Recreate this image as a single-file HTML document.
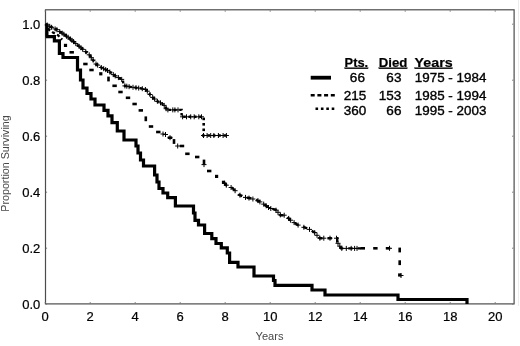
<!DOCTYPE html>
<html><head><meta charset="utf-8"><title>Survival</title>
<style>
html,body{margin:0;padding:0;background:#fff;}
body{width:520px;height:346px;overflow:hidden;font-family:"Liberation Sans",sans-serif;}
svg{display:block;}
text{font-family:"Liberation Sans",sans-serif;}
.tk{font-size:13px;fill:#000;stroke:#000;stroke-width:0.22px;}
.lg{font-size:12.3px;fill:#000;stroke:#000;stroke-width:0.35px;}
.lb{font-size:12.5px;font-weight:bold;fill:#000;stroke:#000;stroke-width:0.2px;}
</style></head><body>
<svg width="520" height="346" viewBox="0 0 520 346">
<rect width="520" height="346" fill="#fff"/>

<rect x="45.5" y="9.8" width="468.6" height="294.1" fill="none" stroke="#4c4c4c" stroke-width="1.2"/>
<line x1="518.5" y1="0" x2="518.5" y2="306" stroke="#ececec" stroke-width="1"/>
<path d="M45.2,303.4v-1.3M45.2,10.4v1.3M90.2,303.4v-1.3M90.2,10.4v1.3M135.2,303.4v-1.3M135.2,10.4v1.3M180.2,303.4v-1.3M180.2,10.4v1.3M225.2,303.4v-1.3M225.2,10.4v1.3M270.2,303.4v-1.3M270.2,10.4v1.3M315.2,303.4v-1.3M315.2,10.4v1.3M360.2,303.4v-1.3M360.2,10.4v1.3M405.2,303.4v-1.3M405.2,10.4v1.3M450.2,303.4v-1.3M450.2,10.4v1.3M495.2,303.4v-1.3M495.2,10.4v1.3M45.8,24.2h1.3M513.4,24.2h-1.3M45.8,80.2h1.3M513.4,80.2h-1.3M45.8,136.2h1.3M513.4,136.2h-1.3M45.8,192.2h1.3M513.4,192.2h-1.3M45.8,248.2h1.3M513.4,248.2h-1.3M45.8,304.2h1.3M513.4,304.2h-1.3" stroke="#777" stroke-width="1" fill="none"/>
<text class="tk" x="40.3" y="28.7" text-anchor="end">1.0</text>
<text class="tk" x="40.3" y="84.7" text-anchor="end">0.8</text>
<text class="tk" x="40.3" y="140.7" text-anchor="end">0.6</text>
<text class="tk" x="40.3" y="196.7" text-anchor="end">0.4</text>
<text class="tk" x="40.3" y="252.7" text-anchor="end">0.2</text>
<text class="tk" x="40.3" y="308.7" text-anchor="end">0.0</text>
<text class="tk" x="45.2" y="321" text-anchor="middle">0</text>
<text class="tk" x="90.2" y="321" text-anchor="middle">2</text>
<text class="tk" x="135.2" y="321" text-anchor="middle">4</text>
<text class="tk" x="180.2" y="321" text-anchor="middle">6</text>
<text class="tk" x="225.2" y="321" text-anchor="middle">8</text>
<text class="tk" x="270.2" y="321" text-anchor="middle">10</text>
<text class="tk" x="315.2" y="321" text-anchor="middle">12</text>
<text class="tk" x="360.2" y="321" text-anchor="middle">14</text>
<text class="tk" x="405.2" y="321" text-anchor="middle">16</text>
<text class="tk" x="450.2" y="321" text-anchor="middle">18</text>
<text class="tk" x="495.2" y="321" text-anchor="middle">20</text>
<text x="269.5" y="340.2" text-anchor="middle" font-size="11.5px" fill="#484848" textLength="28" lengthAdjust="spacingAndGlyphs">Years</text>
<text transform="translate(8.7,163.5) rotate(-90)" text-anchor="middle" font-size="10px" fill="#484848" textLength="96.5" lengthAdjust="spacingAndGlyphs">Proportion Surviving</text>
<polyline points="45.5,24.0 49.8,26.4 56.7,29.6 64.2,34.5 70.0,38.7 78.7,46.0 88.6,54.0 96.0,64.0 100.8,67.3 108.5,71.0 116.0,76.5 120.5,78.6 122.9,80.2 123.5,85.6 129.7,86.8 141.2,88.4 145.9,89.6 148.5,92.6 151.5,96.5 157.3,101.2 162.0,103.5 165.4,106.4 166.5,109.9 181.6,109.9 181.6,116.8 204.5,116.8" fill="none" stroke="#000" stroke-width="2.4" stroke-dasharray="2.6 2.8"/>
<polyline points="202.0,135.5 227.6,135.5" fill="none" stroke="#000" stroke-width="2.4" stroke-dasharray="2.6 2.8"/>
<rect x="202.4" y="117.6" width="2.6" height="2.6" fill="#000"/>
<rect x="202.4" y="123.0" width="2.6" height="2.6" fill="#000"/>
<rect x="202.4" y="128.5" width="2.6" height="2.6" fill="#000"/>
<path d="M44.7,25.0h5.0M47.2,22.5v5.0M47.2,26.3h5.0M49.7,23.8v5.0M49.1,27.3h5.0M51.6,24.8v5.0M52.6,28.9h5.0M55.1,26.4v5.0M54.4,29.7h5.0M56.9,27.2v5.0M57.2,31.6h5.0M59.7,29.1v5.0M59.7,33.2h5.0M62.2,30.7v5.0M61.3,34.2h5.0M63.8,31.7v5.0M64.0,36.2h5.0M66.5,33.7v5.0M65.5,37.2h5.0M68.0,34.7v5.0M68.0,39.1h5.0M70.5,36.6v5.0M69.4,40.3h5.0M71.9,37.8v5.0M71.0,41.6h5.0M73.5,39.1v5.0M73.3,43.6h5.0M75.8,41.1v5.0M76.7,46.4h5.0M79.2,43.9v5.0M78.4,47.7h5.0M80.9,45.2v5.0M80.2,49.3h5.0M82.7,46.8v5.0M83.2,51.6h5.0M85.7,49.1v5.0M86.7,54.8h5.0M89.2,52.3v5.0M88.8,57.7h5.0M91.3,55.2v5.0M90.6,60.1h5.0M93.1,57.6v5.0M93.5,64.0h5.0M96.0,61.5v5.0M95.1,65.1h5.0M97.6,62.6v5.0M98.8,67.5h5.0M101.3,65.0v5.0M101.2,68.7h5.0M103.7,66.2v5.0M103.2,69.6h5.0M105.7,67.1v5.0M105.0,70.5h5.0M107.5,68.0v5.0M107.3,72.0h5.0M109.8,69.5v5.0M110.8,74.6h5.0M113.3,72.1v5.0M112.7,75.9h5.0M115.2,73.4v5.0M115.9,77.6h5.0M118.4,75.1v5.0M119.2,79.4h5.0M121.7,76.9v5.0M122.4,85.9h5.0M124.9,83.4v5.0M124.3,86.2h5.0M126.8,83.7v5.0M126.6,86.7h5.0M129.1,84.2v5.0M130.5,87.3h5.0M133.0,84.8v5.0M133.5,87.7h5.0M136.0,85.2v5.0M136.2,88.1h5.0M138.7,85.6v5.0M139.8,88.7h5.0M142.3,86.2v5.0M142.9,89.5h5.0M145.4,87.0v5.0M144.8,91.2h5.0M147.3,88.7v5.0M147.5,94.5h5.0M150.0,92.0v5.0M150.2,97.4h5.0M152.7,94.9v5.0M152.1,99.0h5.0M154.6,96.5v5.0M154.9,101.3h5.0M157.4,98.8v5.0M158.0,102.8h5.0M160.5,100.3v5.0M161.7,105.4h5.0M164.2,102.9v5.0M163.6,108.7h5.0M166.1,106.2v5.0M165.4,109.9h5.0M167.9,107.4v5.0M170.3,109.9h5.0M172.8,107.4v5.0M172.4,109.9h5.0M174.9,107.4v5.0M175.5,109.9h5.0M178.0,107.4v5.0M180.1,116.8h5.0M182.6,114.3v5.0M184.0,116.8h5.0M186.5,114.3v5.0M188.2,116.8h5.0M190.7,114.3v5.0M191.7,116.8h5.0M194.2,114.3v5.0M196.3,116.8h5.0M198.8,114.3v5.0M199.0,116.8h5.0M201.5,114.3v5.0M201.0,135.5h5.0M203.5,133.0v5.0M204.6,135.5h5.0M207.1,133.0v5.0M208.2,135.5h5.0M210.7,133.0v5.0M211.4,135.5h5.0M213.9,133.0v5.0M215.9,135.5h5.0M218.4,133.0v5.0M220.6,135.5h5.0M223.1,133.0v5.0M223.9,135.5h5.0M226.4,133.0v5.0" stroke="#000" stroke-width="1" fill="none"/>
<polyline points="47.6,28.6 53,32.6 58,35.3 62.2,39.6" fill="none" stroke="#000" stroke-width="2.3" stroke-dasharray="3.2 2.4"/>
<rect x="63.9" y="43.8" width="3.2" height="3.2" fill="#000"/>
<rect x="69.5" y="51.0" width="4.4" height="2.6" fill="#000"/>
<rect x="83.2" y="62.7" width="4.4" height="2.6" fill="#000"/>
<rect x="89.3" y="68.7" width="4.4" height="2.6" fill="#000"/>
<rect x="99.2" y="72.2" width="3.2" height="3.2" fill="#000"/>
<rect x="107.2" y="76.6" width="2.6" height="4.8" fill="#000"/>
<rect x="112.4" y="84.5" width="4.4" height="2.6" fill="#000"/>
<rect x="118.3" y="90.7" width="4.4" height="2.6" fill="#000"/>
<rect x="125.8" y="96.5" width="4.4" height="2.6" fill="#000"/>
<rect x="132.4" y="102.7" width="4.4" height="2.6" fill="#000"/>
<rect x="138.6" y="109.1" width="4.4" height="2.6" fill="#000"/>
<rect x="144.5" y="116.4" width="2.6" height="4.8" fill="#000"/>
<rect x="148.8" y="125.2" width="4.4" height="2.6" fill="#000"/>
<rect x="156.1" y="130.7" width="4.4" height="2.6" fill="#000"/>
<rect x="167.8" y="136.4" width="4.4" height="2.6" fill="#000"/>
<rect x="172.7" y="139.1" width="2.6" height="4.8" fill="#000"/>
<rect x="179.8" y="144.7" width="4.4" height="2.6" fill="#000"/>
<rect x="185.2" y="152.5" width="4.4" height="2.6" fill="#000"/>
<rect x="195.0" y="155.7" width="4.4" height="2.6" fill="#000"/>
<rect x="202.7" y="159.6" width="2.6" height="4.8" fill="#000"/>
<rect x="207.0" y="169.7" width="4.4" height="2.6" fill="#000"/>
<rect x="215.0" y="174.8" width="3.2" height="3.2" fill="#000"/>
<rect x="221.9" y="180.7" width="3.2" height="3.2" fill="#000"/>
<rect x="360.6" y="247.0" width="4.4" height="2.6" fill="#000"/>
<rect x="373.2" y="247.0" width="4.4" height="2.6" fill="#000"/>
<rect x="385.8" y="247.0" width="4.4" height="2.6" fill="#000"/>
<rect x="398.4" y="247.6" width="2.6" height="4.8" fill="#000"/>
<rect x="398.4" y="260.3" width="2.6" height="4.8" fill="#000"/>
<rect x="398.1" y="273.4" width="3.2" height="3.2" fill="#000"/>
<polyline points="224.0,182.5 226.6,185.6 232.3,188.0 239.3,194.9 246.2,197.7 250.8,198.3 257.8,200.6 264.7,204.7 269.6,208.3 275.4,209.5 280.6,215.2 286.4,215.2 289.3,219.3 297.4,224.8 304.3,227.4 309.0,229.1 314.7,232.6 317.0,235.3 319.8,238.2 337.2,238.2 337.2,242.0 339.5,245.7 341.0,248.4 361.0,248.4" fill="none" stroke="#000" stroke-width="2.4" stroke-dasharray="4.4 5"/>
<path d="M222.1,183.3h5.0M224.6,180.8v5.0M223.8,185.2h5.0M226.3,182.7v5.0M228.6,187.5h5.0M231.1,185.0v5.0M232.6,190.7h5.0M235.1,188.2v5.0M237.5,195.2h5.0M240.0,192.7v5.0M243.0,197.4h5.0M245.5,194.9v5.0M246.5,198.1h5.0M249.0,195.6v5.0M250.4,199.0h5.0M252.9,196.5v5.0M255.4,200.6h5.0M257.9,198.1v5.0M257.4,201.9h5.0M259.9,199.4v5.0M261.2,204.1h5.0M263.7,201.6v5.0M263.7,205.8h5.0M266.2,203.3v5.0M266.0,207.5h5.0M268.5,205.0v5.0M268.3,208.5h5.0M270.8,206.0v5.0M273.5,210.2h5.0M276.0,207.7v5.0M275.5,212.3h5.0M278.0,209.8v5.0M277.8,214.9h5.0M280.3,212.4v5.0M281.7,215.2h5.0M284.2,212.7v5.0M286.2,218.4h5.0M288.7,215.9v5.0M288.1,220.2h5.0M290.6,217.7v5.0M291.6,222.6h5.0M294.1,220.1v5.0M295.6,225.1h5.0M298.1,222.6v5.0M301.4,227.3h5.0M303.9,224.8v5.0M307.0,229.4h5.0M309.5,226.9v5.0M312.2,232.6h5.0M314.7,230.1v5.0M314.5,235.3h5.0M317.0,232.8v5.0M317.4,238.2h5.0M319.9,235.7v5.0M321.3,238.2h5.0M323.8,235.7v5.0M327.5,238.2h5.0M330.0,235.7v5.0M334.0,238.2h5.0M336.5,235.7v5.0M335.5,243.3h5.0M338.0,240.8v5.0M337.3,246.2h5.0M339.8,243.7v5.0M339.3,248.4h5.0M341.8,245.9v5.0M343.8,248.4h5.0M346.3,245.9v5.0M348.7,248.4h5.0M351.2,245.9v5.0M352.1,248.4h5.0M354.6,245.9v5.0M354.5,248.4h5.0M357.0,245.9v5.0M160.5,134.0h5.0M163.0,131.5v5.0M163.0,134.5h5.0M165.5,132.0v5.0M167.5,137.7h5.0M170.0,135.2v5.0M175.2,146.0h5.0M177.7,143.5v5.0M201.5,164.6h5.0M204.0,162.1v5.0M387.0,248.3h5.0M389.5,245.8v5.0M398.5,275.5h5.0M401.0,273.0v5.0" stroke="#000" stroke-width="1" fill="none"/>
<polyline points="46.9,23.4 46.9,36.7 45.6,36.7 46.9,36.7 54.4,36.7 54.4,40.8 59.4,40.8 59.4,53.5 63.0,53.5 63.0,57.5 77.5,57.5 77.5,70.0 80.5,70.0 80.5,80.0 83.0,80.0 83.0,88.0 87.0,88.0 87.0,93.5 91.0,93.5 91.0,99.0 95.0,99.0 95.0,105.0 104.0,105.0 104.0,110.4 108.0,110.4 108.0,115.8 112.0,115.8 112.0,122.7 117.3,122.7 117.3,131.0 124.0,131.0 124.0,140.0 136.0,140.0 136.0,146.0 138.0,146.0 138.0,153.0 140.5,153.0 140.5,160.0 143.5,160.0 143.5,166.0 154.6,166.0 154.6,175.0 157.0,175.0 157.0,182.0 159.0,182.0 159.0,188.5 163.0,188.5 163.0,193.0 167.7,193.0 167.7,197.7 175.4,197.7 175.4,206.0 193.5,206.0 193.5,213.0 195.0,213.0 195.0,220.4 198.5,220.4 198.5,225.0 204.6,225.0 204.6,233.5 211.8,233.5 211.8,238.6 216.0,238.6 216.0,243.5 221.3,243.5 221.3,247.8 227.3,247.8 227.3,253.0 229.6,253.0 229.6,262.3 238.0,262.3 238.0,267.0 254.0,267.0 254.0,276.0 273.5,276.0 273.5,280.5 275.0,280.5 275.0,285.4 312.0,285.4 312.0,290.0 325.0,290.0 325.0,295.0 398.0,295.0 398.0,299.5 467.0,299.5 467.0,304.0" fill="none" stroke="#000" stroke-width="3.2" stroke-linejoin="miter"/>
<line x1="310.7" y1="77.7" x2="331" y2="77.7" stroke="#000" stroke-width="3.8"/>
<rect x="310.7" y="94" width="4" height="2.5" fill="#000"/>
<rect x="317.4" y="94" width="4" height="2.5" fill="#000"/>
<rect x="324.1" y="94" width="4" height="2.5" fill="#000"/>
<rect x="330.8" y="94" width="4" height="2.5" fill="#000"/>
<rect x="315.5" y="107.5" width="2.6" height="2.5" fill="#000"/>
<rect x="320.9" y="107.5" width="2.6" height="2.5" fill="#000"/>
<rect x="326.3" y="107.5" width="2.6" height="2.5" fill="#000"/>
<rect x="331.7" y="107.5" width="2.6" height="2.5" fill="#000"/>
<text class="lb" x="344.6" y="66.6" textLength="23.6" lengthAdjust="spacingAndGlyphs" text-decoration="underline">Pts.</text>
<text class="lb" x="378.8" y="66.6" textLength="28.6" lengthAdjust="spacingAndGlyphs" text-decoration="underline">Died</text>
<text class="lb" x="414.6" y="66.6" textLength="38" lengthAdjust="spacingAndGlyphs" text-decoration="underline">Years</text>
<text class="lg" transform="translate(364.9,82) scale(1.1,1)" text-anchor="end">66</text>
<text class="lg" transform="translate(401.4,82) scale(1.1,1)" text-anchor="end">63</text>
<text class="lg" transform="translate(414.8,82) scale(1.09,1)">1975 - 1984</text>
<text class="lg" transform="translate(366.4,100) scale(1.1,1)" text-anchor="end">215</text>
<text class="lg" transform="translate(401.4,100) scale(1.1,1)" text-anchor="end">153</text>
<text class="lg" transform="translate(414.8,100) scale(1.09,1)">1985 - 1994</text>
<text class="lg" transform="translate(366.4,115) scale(1.1,1)" text-anchor="end">360</text>
<text class="lg" transform="translate(401.4,115) scale(1.1,1)" text-anchor="end">66</text>
<text class="lg" transform="translate(414.8,115) scale(1.09,1)">1995 - 2003</text>
</svg></body></html>
